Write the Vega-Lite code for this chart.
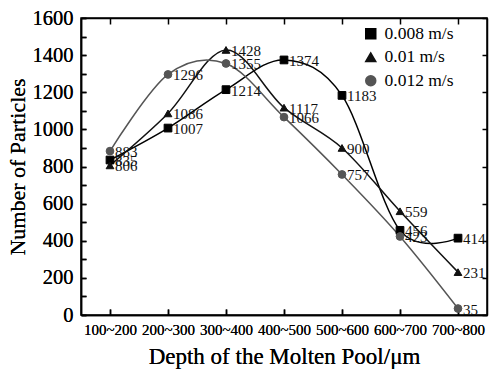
{
  "$schema": "https://vega.github.io/schema/vega-lite/v6.json",
  "width": 406,
  "height": 297,
  "autosize": {"type": "none"},
  "padding": {"left": 81, "top": 18, "right": 2, "bottom": 56},
  "background": "white",
  "config": {
    "font": "Liberation Serif",
    "view": {"stroke": "#000", "strokeWidth": 1.5},
    "axis": {"domainColor": "#000", "domainWidth": 1.5, "tickColor": "#000", "tickWidth": 1.5, "labelColor": "#000", "titleColor": "#000", "grid": false, "titleFontWeight": "normal", "labelFont": "Liberation Serif", "titleFont": "Liberation Serif"},
    "legend": {"labelFont": "Liberation Serif"}
  },
  "data": {"values": [
    {"depth": "100~200", "speed": "0.008 m/s", "n": 835},
    {"depth": "200~300", "speed": "0.008 m/s", "n": 1007},
    {"depth": "300~400", "speed": "0.008 m/s", "n": 1214},
    {"depth": "400~500", "speed": "0.008 m/s", "n": 1374},
    {"depth": "500~600", "speed": "0.008 m/s", "n": 1183},
    {"depth": "600~700", "speed": "0.008 m/s", "n": 456},
    {"depth": "700~800", "speed": "0.008 m/s", "n": 414},
    {"depth": "100~200", "speed": "0.01 m/s", "n": 806},
    {"depth": "200~300", "speed": "0.01 m/s", "n": 1086},
    {"depth": "300~400", "speed": "0.01 m/s", "n": 1428},
    {"depth": "400~500", "speed": "0.01 m/s", "n": 1117},
    {"depth": "500~600", "speed": "0.01 m/s", "n": 900},
    {"depth": "600~700", "speed": "0.01 m/s", "n": 559},
    {"depth": "700~800", "speed": "0.01 m/s", "n": 231},
    {"depth": "100~200", "speed": "0.012 m/s", "n": 883},
    {"depth": "200~300", "speed": "0.012 m/s", "n": 1296},
    {"depth": "300~400", "speed": "0.012 m/s", "n": 1355},
    {"depth": "400~500", "speed": "0.012 m/s", "n": 1066},
    {"depth": "500~600", "speed": "0.012 m/s", "n": 757},
    {"depth": "600~700", "speed": "0.012 m/s", "n": 423},
    {"depth": "700~800", "speed": "0.012 m/s", "n": 35}
  ]},
  "encoding": {
    "x": {"field": "depth", "type": "ordinal", "scale": {"type": "point", "padding": 0.5, "domain": ["100~200", "200~300", "300~400", "400~500", "500~600", "600~700", "700~800"]},
      "axis": {"title": "Depth of the Molten Pool/μm", "labelAngle": 0, "labelFontSize": 15, "titleFontSize": 23, "tickSize": -6, "labelPadding": 13, "titlePadding": 8}},
    "y": {"field": "n", "type": "quantitative", "scale": {"domain": [0, 1600], "nice": false},
      "axis": {"title": "Number of Particles", "values": [0,100,200,300,400,500,600,700,800,900,1000,1100,1200,1300,1400,1500,1600], "labelExpr": "datum.value % 200 === 0 ? datum.label : ''", "format": "d", "labelFontSize": 20.5, "titleFontSize": 22, "tickSize": -5, "labelPadding": 13, "titlePadding": 3}},
    "color": {"field": "speed", "type": "nominal", "scale": {"domain": ["0.008 m/s", "0.01 m/s", "0.012 m/s"], "range": ["#000000", "#111111", "#555555"]}, "title": null}
  },
  "layer": [
    {"mark": {"type": "line", "interpolate": "cardinal", "strokeWidth": 1.5}},
    {"mark": {"type": "point", "filled": false, "size": 60, "opacity": 1, "strokeWidth": 1},
      "encoding": {
        "fill": {"field": "speed", "type": "nominal", "scale": {"domain": ["0.008 m/s", "0.01 m/s", "0.012 m/s"], "range": ["#000000", "#111111", "#555555"]}, "title": null},
        "shape": {"field": "speed", "type": "nominal", "scale": {"domain": ["0.008 m/s", "0.01 m/s", "0.012 m/s"], "range": ["square", "triangle-up", "circle"]}, "title": null,
          "legend": {"orient": "none", "legendX": 281, "legendY": 7, "padding": 0, "labelFontSize": 17.5, "labelFont": "Liberation Serif", "labelColor": "#000", "symbolSize": 100, "symbolOffset": 0, "labelOffset": 5, "rowPadding": 4.5, "symbolStrokeWidth": 1.5, "symbolOpacity": 1}},
        "x": {"field": "depth", "type": "ordinal", "axis": {"orient": "top", "labels": false, "title": null, "tickSize": -6, "domainWidth": 1.5}},
        "y": {"field": "n", "type": "quantitative", "axis": {"orient": "right", "labels": false, "title": null, "tickSize": -5, "values": [0,200,400,600,800,1000,1200,1400,1600]}}
      }},
    {"mark": {"type": "text", "align": "left", "baseline": "middle", "dx": 5, "dy": 1, "fontSize": 15, "font": "Liberation Serif", "color": "#111"},
      "encoding": {"text": {"field": "n", "type": "quantitative"}, "color": {"value": "#111"}}}
  ],
  "resolve": {"axis": {"x": "independent", "y": "independent"}}
}
